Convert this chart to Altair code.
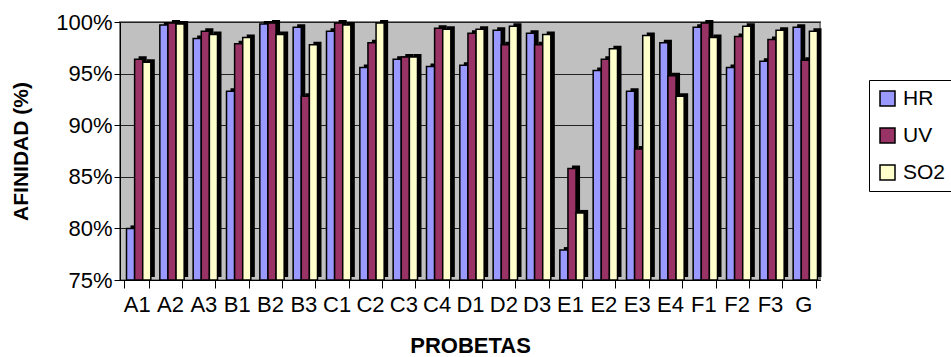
import altair as alt
import pandas as pd

# Affinity (%) of each test specimen under three exposure conditions
probetas = ["A1", "A2", "A3", "B1", "B2", "B3", "C1", "C2", "C3", "C4", "D1",
            "D2", "D3", "E1", "E2", "E3", "E4", "F1", "F2", "F3", "G"]
hr = [80.0, 99.7, 98.4, 93.3, 99.8, 99.5, 99.1, 95.6, 96.4, 95.7, 95.8,
      99.2, 98.9, 77.9, 95.3, 93.3, 98.0, 99.5, 95.6, 96.2, 99.5]
uv = [96.4, 99.9, 99.1, 97.9, 99.9, 92.8, 99.9, 98.0, 96.6, 99.4, 98.9,
      97.8, 97.8, 85.8, 96.4, 87.7, 94.8, 99.9, 98.6, 98.3, 96.3]
so2 = [96.1, 99.8, 98.8, 98.5, 98.8, 97.8, 99.7, 99.9, 96.6, 99.3, 99.3,
       99.6, 98.8, 81.5, 97.4, 98.7, 92.8, 98.5, 99.6, 99.2, 99.1]

series = ["HR", "UV", "SO2"]
colors = ["#9999FF", "#993366", "#FFFFCC"]

rows = []
for name, vals in zip(series, [hr, uv, so2]):
    for p, v in zip(probetas, vals):
        rows.append({"probeta": p, "serie": name, "afinidad": v})
df = pd.DataFrame(rows)

FONT = "Liberation Sans"
BASE = 75
W, H = 700, 258
STEP = W / len(probetas)
GROUP = STEP * (1 - 0.27)

x = alt.X(
    "probeta:N",
    sort=probetas,
    scale=alt.Scale(paddingInner=0.27, paddingOuter=0.135),
    axis=alt.Axis(
        title="PROBETAS", labelAngle=0, tickBand="extent", tickSize=8,
        labelPadding=6, titlePadding=20, domainColor="black", tickColor="black",
        labelFontSize=22, titleFontSize=22, titleFontWeight="bold", grid=False,
        labelColor="black", titleColor="black",
    ),
)
y = alt.Y(
    "afinidad:Q",
    scale=alt.Scale(domain=[75, 100], nice=False, zero=False),
    axis=alt.Axis(
        values=[75, 80, 85, 90, 95, 100], labelExpr="datum.value + '%'",
        title="AFINIDAD (%)", titleFontSize=21, titleFontWeight="bold",
        labelFontSize=22, tickSize=6, labelPadding=2, titlePadding=24,
        domainColor="black", tickColor="black", gridColor="#222222",
        gridWidth=1, labelColor="black", titleColor="black",
    ),
)


def offset(shift):
    return alt.XOffset(
        "serie:N", sort=series,
        scale=alt.Scale(domain=series, range=[shift, GROUP + shift],
                        paddingInner=0, paddingOuter=0),
    )


# black silhouette behind each bar gives the 3-D depth look
depth = alt.Chart(df).mark_bar(
    color="black", yOffset=-3, y2Offset=-3
).encode(x=x, xOffset=offset(6), y=y, y2=alt.datum(BASE))

face = alt.Chart(df).mark_bar(stroke="black", strokeWidth=1.5).encode(
    x=x, xOffset=offset(2), y=y, y2=alt.datum(BASE),
    color=alt.Color(
        "serie:N", sort=series,
        scale=alt.Scale(domain=series, range=colors),
        legend=alt.Legend(
            title=None, orient="none", legendX=749, legendY=58,
            direction="vertical", symbolType="square", symbolSize=225,
            symbolStrokeColor="black", symbolStrokeWidth=1.5,
            labelFontSize=21, labelFont=FONT, labelColor="black",
            strokeColor="black", fillColor="white", padding=8,
            rowPadding=15, labelOffset=5,
        ),
    ),
)

chart = (
    alt.layer(depth, face)
    .resolve_scale(xOffset="independent")
    .properties(
        width=W, height=H,
        autosize=alt.AutoSizeParams(type="none"),
        padding={"left": 120, "top": 22, "right": 131, "bottom": 77},
        background="white",
    )
    .configure(font=FONT)
    .configure_view(fill="#C0C0C0", stroke="#808080", strokeWidth=2)
)

chart.save("out.html", embed_options={"renderer": "svg", "actions": False})
